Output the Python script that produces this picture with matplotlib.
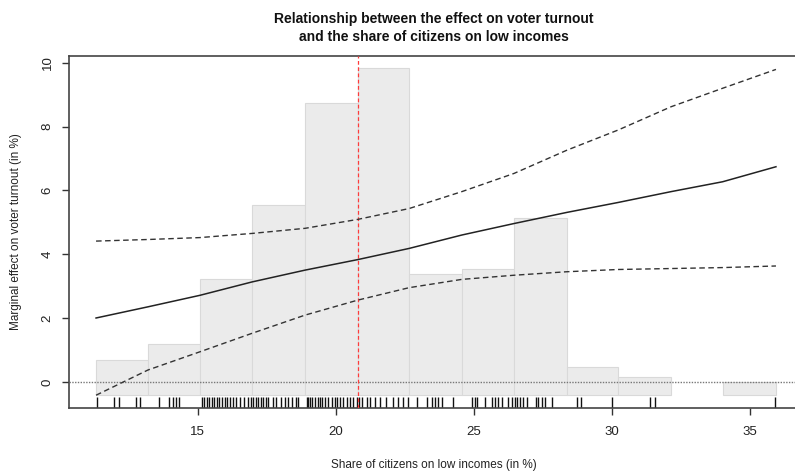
import numpy as np
import matplotlib
matplotlib.use('Agg')
import matplotlib.pyplot as plt

plt.rcParams['font.family'] = ['Liberation Sans', 'DejaVu Sans']

# grid of x values (bin edges of the histogram, also used for the effect lines)
x_grid = [11.32, 13.20, 15.08, 16.97, 18.89, 20.80, 22.66,
          24.57, 26.46, 28.38, 30.23, 32.15, 34.02, 35.95]

# marginal effect and confidence band
effect = [2.00, 2.35, 2.71, 3.13, 3.50, 3.83, 4.18,
          4.60, 4.96, 5.31, 5.62, 5.96, 6.27, 6.74]
upper = [4.41, 4.46, 4.52, 4.65, 4.81, 5.09, 5.43,
         5.96, 6.53, 7.26, 7.89, 8.62, 9.20, 9.79]
lower = [-0.42, 0.37, 0.94, 1.52, 2.09, 2.56, 2.95,
         3.21, 3.34, 3.45, 3.52, 3.55, 3.58, 3.63]

# histogram bar tops (base at hist_base), None = empty bin
hist_tops = [0.68, 1.20, 3.21, 5.54, 8.75, 9.82, 3.37,
             3.52, 5.14, 0.47, 0.14, None, -0.02]
hist_base = -0.42

# observed values of the moderator (rug)
rug_x = [11.34, 11.97, 12.15, 12.76, 12.93, 13.60, 13.96, 14.12, 14.21, 14.31,
         15.14, 15.23, 15.33, 15.41, 15.51, 15.59, 15.69, 15.78, 15.87, 15.99,
         16.05, 16.17, 16.27, 16.39, 16.53, 16.68, 16.83, 16.93, 17.01, 17.11,
         17.20, 17.29, 17.38, 17.47, 17.56, 17.72, 17.84, 18.01, 18.16, 18.28,
         18.41, 18.56, 18.65, 18.95, 19.01, 19.07, 19.13, 19.25, 19.37, 19.43,
         19.49, 19.61, 19.73, 19.86, 19.97, 20.06, 20.16, 20.28, 20.40, 20.52,
         20.64, 20.76, 20.86, 20.94, 21.12, 21.24, 21.42, 21.61, 21.82, 22.07,
         22.27, 22.45, 22.63, 22.93, 23.30, 23.48, 23.60, 23.72, 23.84, 24.26,
         24.93, 25.05, 25.11, 25.41, 25.65, 25.77, 25.89, 26.01, 26.25, 26.38,
         26.50, 26.58, 26.68, 26.80, 26.92, 27.26, 27.34, 27.46, 27.58, 27.83,
         28.73, 28.88, 30.00, 31.39, 31.57, 35.92]

mean_x = 20.82

x_ticks = [15, 20, 25, 30, 35]
y_ticks = [0, 2, 4, 6, 8, 10]

fig = plt.figure(figsize=(7.95, 4.75), dpi=100)
ax = fig.add_axes([69 / 795, 66.7 / 475, 1 - 69 / 795, 352.6 / 475])

# histogram of the moderator
for i, top in enumerate(hist_tops):
    if top is None:
        continue
    left = x_grid[i]
    w = x_grid[i + 1] - x_grid[i]
    ax.bar(left, top - hist_base, width=w, bottom=hist_base, align='edge',
           color='#ebebeb', edgecolor='#d9d9d9', linewidth=0.8, zorder=1)

# rug
ax.vlines(rug_x, -0.83, -0.47, color='#111111', linewidth=1.0, zorder=2)

# zero line and mean of moderator
ax.axhline(0, color='#777777', linestyle=(0, (1, 1)), linewidth=1.0, zorder=3)
ax.axvline(mean_x, color='#ff3b3b', linestyle=(0, (3, 2)), linewidth=0.9, zorder=3)

# effect and confidence interval
ax.plot(x_grid, effect, color='#222222', linewidth=1.1, zorder=4)
ax.plot(x_grid, upper, color='#333333', linewidth=1.0, linestyle=(0, (4, 2.5)), zorder=4)
ax.plot(x_grid, lower, color='#333333', linewidth=1.0, linestyle=(0, (4, 2.5)), zorder=4)

ax.set_xlim(10.34, 36.64)
ax.set_ylim(-0.83, 10.22)

ax.set_xticks(x_ticks)
ax.set_yticks(y_ticks)
ax.set_yticklabels([str(v) for v in y_ticks], rotation=90, va='center')
ax.tick_params(axis='both', direction='out', length=5, width=1, colors='#333333',
               labelsize=9.5, labelcolor='#222222')
ax.tick_params(axis='x', pad=8)
ax.tick_params(axis='y', pad=6)

for side in ['left', 'bottom', 'top']:
    ax.spines[side].set_color('#444444')
    ax.spines[side].set_linewidth(1.2)
ax.spines['right'].set_visible(False)

fig.text(434 / 795, 1 - 465 / 475, 'Share of citizens on low incomes (in %)',
         ha='center', va='center', fontsize=8.5, color='#222222')
fig.text(16 / 795, 1 - 232 / 475, 'Marginal effect on voter turnout (in %)',
         ha='center', va='center', rotation=90, fontsize=8.5, color='#222222')

fig.text(434 / 795, 1 - 28 / 475,
         'Relationship between the effect on voter turnout\nand the share of citizens on low incomes',
         ha='center', va='center', fontsize=10, fontweight='bold',
         color='#111111', linespacing=1.3)

fig.savefig('out.png', dpi=100)
